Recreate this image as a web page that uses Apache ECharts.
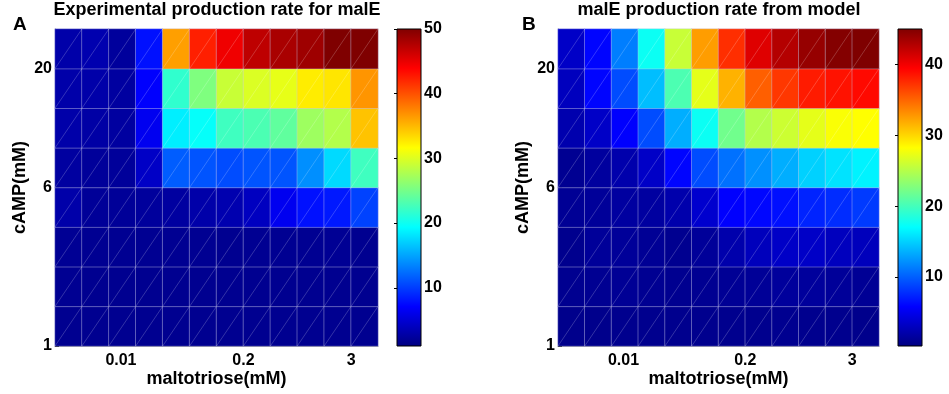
<!DOCTYPE html>
<html>
<head>
<meta charset="utf-8">
<title>malE production rate</title>
<script src="https://cdn.jsdelivr.net/npm/echarts@6/dist/echarts.min.js"></script>
<style>
html, body { margin: 0; padding: 0; background: #fff; }
#chart { width: 949px; height: 394px; }
</style>
</head>
<body>
<div id="chart"></div>
<script>
// 12 maltotriose levels (columns), 8 cAMP levels (rows, bottom -> top)
const maltoLevels = ['1', '2', '3', '4', '5', '6', '7', '8', '9', '10', '11', '12'];
const campLevels = ['1', '2', '3', '4', '5', '6', '7', '8'];

// tick labels and the column/row position they sit at
const xTickLabels = ['0.01', '0.2', '3'];
const xTickPos = [2.45, 7, 11];
const yTickLabels = ['1', '6', '20'];
const yTickPos = [0, 4, 7];

// experimental rate, rows from lowest cAMP to highest
const expRate = [
    [1.8, 1.8, 1.8, 1.8, 1.8, 1.8, 1.8, 1.8, 1.8, 1.8, 1.8, 1.8],
    [1.9, 1.8, 1.8, 1.8, 1.8, 1.8, 1.8, 1.8, 1.8, 1.8, 1.8, 1.8],
    [2.0, 1.9, 1.9, 1.9, 1.9, 1.9, 1.8, 1.9, 1.9, 1.9, 2.0, 1.8],
    [3.0, 2.2, 2.2, 2.4, 2.6, 3.0, 3.3, 4.1, 6.4, 7.9, 8.3, 10.3],
    [2.6, 2.3, 2.3, 4.4, 11.6, 11.2, 10.8, 11.2, 11.2, 14.0, 17.6, 22.4],
    [3.0, 2.8, 2.6, 6.4, 18.6, 19.6, 22.4, 23.0, 24.0, 27.0, 28.0, 34.5],
    [3.0, 3.0, 2.6, 7.1, 21.7, 25.5, 29.0, 29.9, 30.5, 32.5, 32.8, 36.7],
    [3.0, 3.3, 2.4, 7.9, 36.2, 42.4, 44.6, 47.0, 48.0, 48.5, 50.0, 50.0]
];

// model rate, same layout
const modelRate = [
    [0.8, 0.8, 0.9, 0.9, 0.9, 0.9, 0.9, 0.9, 1.0, 0.9, 0.9, 0.8],
    [1.0, 1.1, 1.2, 1.1, 1.0, 1.1, 1.2, 1.3, 1.5, 1.5, 1.4, 1.2],
    [0.9, 1.4, 1.4, 1.2, 1.0, 1.4, 2.2, 2.9, 3.4, 3.4, 3.0, 2.9],
    [1.2, 1.4, 1.7, 1.7, 2.2, 3.7, 5.8, 6.1, 6.5, 7.4, 7.8, 8.4],
    [1.1, 1.6, 2.2, 3.4, 6.0, 9.2, 10.8, 12.2, 13.5, 15.0, 15.8, 16.5],
    [2.3, 3.4, 5.8, 9.2, 13.5, 17.5, 22.0, 24.9, 26.0, 27.1, 28.0, 28.2],
    [3.0, 6.0, 9.2, 14.2, 20.4, 27.1, 31.6, 35.2, 37.0, 38.2, 38.6, 39.0],
    [3.4, 6.0, 11.4, 17.5, 25.8, 32.5, 37.4, 40.8, 42.7, 44.0, 44.8, 45.0]
];

// colour bar ranges and labels
const expScale = [1, 50];
const modelScale = [0.25, 45];
const expBarTicks = [10, 20, 30, 40, 50];
const modelBarTicks = [10, 20, 30, 40];

// jet colour map
const jet = ['#00007F', '#0000FF', '#007FFF', '#00FFFF', '#7FFF7F', '#FFFF00', '#FF7F00', '#FF0000', '#7F0000'];

const font = 'Liberation Sans';

function toCells(rows) {
    const cells = [];
    rows.forEach((row, r) => row.forEach((v, c) => cells.push([c, r, v])));
    return cells;
}

// the thin "/" line that crosses each cell
function diagItem(params, api) {
    const p = api.coord([api.value(0), api.value(1)]);
    const s = api.size([1, 1]);
    return {
        type: 'line',
        shape: { x1: p[0] - s[0] / 2, y1: p[1] + s[1] / 2, x2: p[0] + s[0] / 2, y2: p[1] - s[1] / 2 },
        style: { stroke: 'rgba(255,255,255,0.25)', lineWidth: 0.8 }
    };
}

function colorbarItem(params, api) {
    const a = api.coord([0, api.value(1)]);
    const b = api.coord([1, api.value(0)]);
    return {
        type: 'rect',
        shape: { x: a[0], y: a[1], width: b[0] - a[0], height: b[1] - a[1] },
        style: {
            fill: new echarts.graphic.LinearGradient(0, 1, 0, 0,
                jet.map((c, i) => ({ offset: i / (jet.length - 1), color: c }))),
            stroke: '#000',
            lineWidth: 1
        }
    };
}

function nearestLabel(labels, pos) {
    return v => {
        let best = 0;
        pos.forEach((p, i) => { if (Math.abs(p - v) < Math.abs(pos[best] - v)) best = i; });
        return labels[best];
    };
}

const labelStyle = { fontFamily: font, fontWeight: 'bold', fontSize: 16, color: '#000' };
const nameStyle = { fontFamily: font, fontWeight: 'bold', fontSize: 18, color: '#000' };

const grids = [
    { left: 55, top: 29, width: 323, height: 317, outerBoundsMode: 'none' },
    { left: 558, top: 29, width: 321, height: 317, outerBoundsMode: 'none' },
    { left: 397, top: 29, width: 24, height: 317, outerBoundsMode: 'none' },
    { left: 898, top: 29, width: 24, height: 317, outerBoundsMode: 'none' }
];

function catX(g) {
    return {
        type: 'category', gridIndex: g, data: maltoLevels,
        axisLine: { show: true, lineStyle: { color: '#999' } },
        axisTick: { show: false }, axisLabel: { show: false }, splitLine: { show: false }
    };
}
function catY(g) {
    return {
        type: 'category', gridIndex: g, data: campLevels,
        axisLine: { show: true, lineStyle: { color: '#888' } },
        axisTick: { show: false }, axisLabel: { show: false }, splitLine: { show: false }
    };
}
function tickX(g) {
    return {
        type: 'value', gridIndex: g, min: 0, max: maltoLevels.length, position: 'bottom',
        name: 'maltotriose(mM)', nameLocation: 'middle', nameGap: 24, nameMoveOverlap: false, nameTextStyle: nameStyle,
        axisLine: { show: false }, splitLine: { show: false },
        axisTick: { show: true, inside: true, length: 4, customValues: xTickPos, lineStyle: { color: '#000' } },
        axisLabel: { customValues: xTickPos, formatter: nearestLabel(xTickLabels, xTickPos), margin: 7, ...labelStyle }
    };
}
function tickY(g) {
    return {
        type: 'value', gridIndex: g, min: 0, max: campLevels.length, position: 'left',
        name: 'cAMP(mM)', nameLocation: 'middle', nameGap: 26, nameTextStyle: nameStyle,
        axisLine: { show: false }, splitLine: { show: false },
        axisTick: { show: true, inside: true, length: 4, customValues: yTickPos, lineStyle: { color: '#000' } },
        axisLabel: { customValues: yTickPos, formatter: nearestLabel(yTickLabels, yTickPos), margin: 3, ...labelStyle }
    };
}
function barX(g) {
    return { type: 'value', gridIndex: g, min: 0, max: 1, show: false };
}
function barY(g, scale, ticks, side, labels) {
    return {
        type: 'value', gridIndex: g, min: scale[0], max: scale[1], position: side,
        axisLine: { show: false }, splitLine: { show: false },
        axisTick: { show: true, inside: true, length: 3, customValues: ticks, lineStyle: { color: '#000' } },
        axisLabel: { show: labels, customValues: ticks, margin: 3, ...labelStyle }
    };
}

const chart = echarts.init(document.getElementById('chart'));
chart.setOption({
    animation: false,
    grid: grids,
    xAxis: [catX(0), tickX(0), catX(1), tickX(1), barX(2), barX(3)],
    yAxis: [
        catY(0), tickY(0), catY(1), tickY(1),
        barY(2, expScale, expBarTicks, 'right', true),
        barY(3, modelScale, modelBarTicks, 'right', true),
        barY(2, expScale, expBarTicks, 'left', false),
        barY(3, modelScale, modelBarTicks, 'left', false)
    ],
    visualMap: [
        { type: 'continuous', show: false, seriesIndex: 0, dimension: 2, min: expScale[0], max: expScale[1], inRange: { color: jet } },
        { type: 'continuous', show: false, seriesIndex: 2, dimension: 2, min: modelScale[0], max: modelScale[1], inRange: { color: jet } }
    ],
    series: [
        {
            type: 'heatmap', xAxisIndex: 0, yAxisIndex: 0, data: toCells(expRate),
            itemStyle: { borderColor: 'rgba(200,200,235,0.4)', borderWidth: 1 }
        },
        { type: 'custom', xAxisIndex: 0, yAxisIndex: 0, data: toCells(expRate), renderItem: diagItem, silent: true, z: 5 },
        {
            type: 'heatmap', xAxisIndex: 2, yAxisIndex: 2, data: toCells(modelRate),
            itemStyle: { borderColor: 'rgba(200,200,235,0.4)', borderWidth: 1 }
        },
        { type: 'custom', xAxisIndex: 2, yAxisIndex: 2, data: toCells(modelRate), renderItem: diagItem, silent: true, z: 5 },
        { type: 'custom', xAxisIndex: 4, yAxisIndex: 4, data: [expScale], renderItem: colorbarItem, silent: true },
        { type: 'custom', xAxisIndex: 5, yAxisIndex: 5, data: [modelScale], renderItem: colorbarItem, silent: true }
    ],
    graphic: [
        { type: 'text', left: 13, top: 15, style: { text: 'A', font: 'bold 19px "Liberation Sans"', fill: '#000' } },
        { type: 'text', left: 522, top: 15, style: { text: 'B', font: 'bold 19px "Liberation Sans"', fill: '#000' } },
        { type: 'text', x: 217, y: 1, style: { text: 'Experimental production rate for malE', font: 'bold 18px "Liberation Sans"', fill: '#000', align: 'center' } },
        { type: 'text', x: 719, y: 1, style: { text: 'malE production rate from model', font: 'bold 18px "Liberation Sans"', fill: '#000', align: 'center' } }
    ]
});
</script>
</body>
</html>
